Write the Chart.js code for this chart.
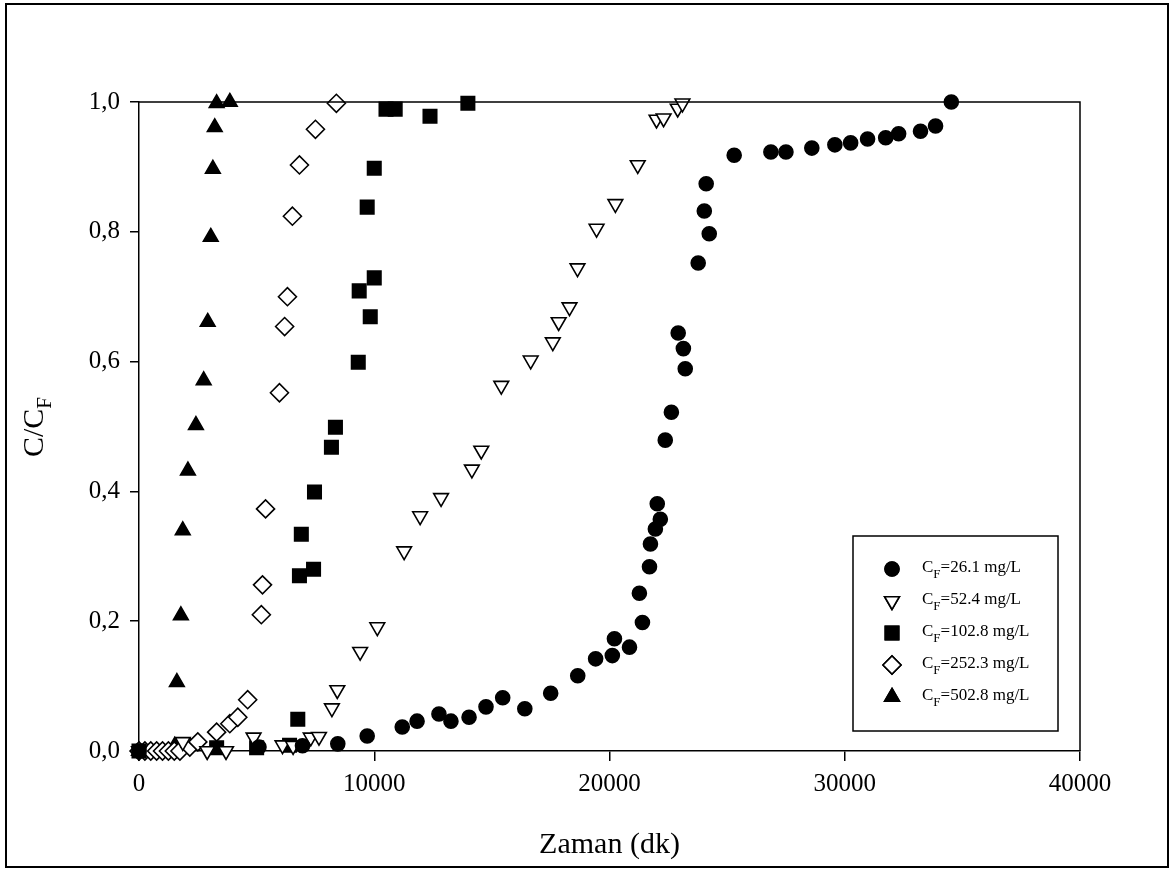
<!DOCTYPE html>
<html>
<head>
<meta charset="utf-8">
<script src="https://cdn.jsdelivr.net/npm/chart.js@4.4.0/dist/chart.umd.min.js"></script>
<style>
  html, body { margin: 0; padding: 0; background: #fff; }
</style>
</head>
<body>
<canvas id="breakthrough" width="1169" height="871"></canvas>
<script>
// axis ticks
const xTicks = [0, 10000, 20000, 30000, 40000];
const yTicks = [0, 0.2, 0.4, 0.6, 0.8, 1.0];

// legend labels (C_F values)
const feedConc = ['26.1', '52.4', '102.8', '252.3', '502.8'];

// CF = 26.1 mg/L (filled circles)
const time261 = [0, 5100, 6950, 8450, 9700, 11190, 11820, 12750, 13260, 14030, 14750, 15460, 16400, 17500, 18650, 19410, 20120, 20210, 20850, 21400, 21270, 21700, 21740, 21950, 22160, 22030, 22370, 22630, 23220, 23140, 22920, 23770, 24240, 24030, 24110, 25300, 26860, 27500, 28600, 29580, 30250, 30970, 31740, 32290, 33220, 33860, 34530];
const ratio261 = [0, 0.006, 0.008, 0.011, 0.023, 0.037, 0.046, 0.057, 0.046, 0.052, 0.068, 0.082, 0.065, 0.089, 0.116, 0.142, 0.147, 0.173, 0.160, 0.198, 0.243, 0.284, 0.319, 0.342, 0.357, 0.381, 0.479, 0.522, 0.589, 0.620, 0.644, 0.752, 0.797, 0.832, 0.874, 0.918, 0.923, 0.923, 0.929, 0.934, 0.937, 0.943, 0.945, 0.951, 0.955, 0.963, 1.0];

// CF = 52.4 mg/L (open down triangles)
const time524 = [0, 1860, 2900, 3700, 4870, 6100, 6550, 7300, 7650, 8200, 8430, 9400, 10130, 11270, 11950, 12840, 14150, 14550, 15400, 16650, 17590, 17840, 18300, 18640, 19450, 20250, 21200, 22000, 22300, 22900, 23100];
const ratio524 = [0, 0.014, 0.0, 0.0, 0.021, 0.009, 0.008, 0.021, 0.022, 0.066, 0.094, 0.153, 0.191, 0.308, 0.362, 0.390, 0.434, 0.463, 0.563, 0.602, 0.630, 0.661, 0.684, 0.744, 0.805, 0.843, 0.903, 0.973, 0.975, 0.990, 0.998];

// CF = 102.8 mg/L (filled squares)
const time1028 = [0, 3300, 5000, 6400, 6750, 6820, 6900, 7420, 7460, 8180, 8350, 9320, 9830, 9360, 10000, 9700, 10000, 10500, 10890, 12370, 13980];
const ratio1028 = [0, 0.005, 0.005, 0.009, 0.049, 0.270, 0.334, 0.280, 0.399, 0.468, 0.499, 0.599, 0.669, 0.709, 0.729, 0.838, 0.898, 0.989, 0.989, 0.978, 0.998];

// CF = 252.3 mg/L (open diamonds)
const time2523 = [0, 250, 500, 750, 1000, 1250, 1500, 1740, 2160, 2500, 3300, 3860, 4200, 4620, 5200, 5250, 5380, 5970, 6190, 6310, 6520, 6820, 7500, 8390];
const ratio2523 = [0, 0, 0, 0, 0, 0, 0, 0, 0.006, 0.014, 0.029, 0.042, 0.052, 0.079, 0.210, 0.256, 0.373, 0.552, 0.654, 0.700, 0.824, 0.903, 0.958, 0.998];

// CF = 502.8 mg/L (filled triangles)
const time5028 = [0, 1520, 1610, 1780, 1860, 2080, 2420, 2750, 2920, 3050, 3140, 3220, 3300, 3860];
const ratio5028 = [0, 0.008, 0.106, 0.209, 0.340, 0.432, 0.502, 0.571, 0.661, 0.792, 0.897, 0.961, 0.998, 1.0];

function pairs(xs, ys) {
  return xs.map(function (x, i) { return { x: x, y: ys[i] }; });
}

const styles = [
  { pointStyle: 'circle',   radius: 7,   fill: '#000', rot: 0 },
  { pointStyle: 'triangle', radius: 8.5, fill: '#fff', rot: 180 },
  { pointStyle: 'rect',     radius: 9.5, fill: '#000', rot: 0 },
  { pointStyle: 'rectRot',  radius: 9,   fill: '#fff', rot: 0 },
  { pointStyle: 'triangle', radius: 8.5, fill: '#000', rot: 0 }
];
const seriesData = [
  pairs(time261, ratio261),
  pairs(time524, ratio524),
  pairs(time1028, ratio1028),
  pairs(time2523, ratio2523),
  pairs(time5028, ratio5028)
];

const datasets = seriesData.map(function (d, i) {
  const s = styles[i];
  return {
    label: 'CF=' + feedConc[i] + ' mg/L',
    data: d,
    showLine: false,
    clip: false,
    pointStyle: s.pointStyle,
    pointRadius: s.radius,
    pointRotation: s.rot,
    pointBackgroundColor: s.fill,
    pointBorderColor: '#000',
    pointBorderWidth: 1.6
  };
});

const serif = '"Liberation Serif", "Times New Roman", serif';

// frame, axis titles and legend with subscripts
const decorPlugin = {
  id: 'decor',
  afterDraw: function (chart) {
    const ctx = chart.ctx;
    const a = chart.chartArea;
    ctx.save();
    ctx.strokeStyle = '#000';
    ctx.fillStyle = '#000';

    // outer border
    ctx.lineWidth = 2;
    ctx.strokeRect(6, 4, 1162, 863);

    // top and right edge of plot box
    ctx.lineWidth = 1.5;
    ctx.beginPath();
    ctx.moveTo(a.left, a.top);
    ctx.lineTo(a.right, a.top);
    ctx.lineTo(a.right, a.bottom);
    ctx.stroke();

    // x title
    ctx.font = '30px ' + serif;
    ctx.textAlign = 'center';
    ctx.textBaseline = 'alphabetic';
    ctx.fillText('Zaman (dk)', (a.left + a.right) / 2, 853);

    // y title C/C_F rotated
    ctx.save();
    ctx.font = '30px ' + serif;
    const main = 'C/C';
    const wMain = ctx.measureText(main).width;
    ctx.font = '21px ' + serif;
    const wSub = ctx.measureText('F').width;
    const total = wMain + wSub;
    ctx.translate(43, 427 + total / 2);
    ctx.rotate(-Math.PI / 2);
    ctx.textAlign = 'left';
    ctx.font = '30px ' + serif;
    ctx.fillText(main, 0, 0);
    ctx.font = '21px ' + serif;
    ctx.fillText('F', wMain, 8);
    ctx.restore();

    // legend
    ctx.lineWidth = 1.5;
    ctx.strokeRect(853, 536, 205, 195);
    const rowY = [569, 601, 633, 665, 697];
    for (let i = 0; i < styles.length; i++) {
      const s = styles[i];
      Chart.helpers.drawPoint(ctx, {
        pointStyle: s.pointStyle,
        radius: s.radius,
        rotation: s.rot,
        borderWidth: 1.6
      }, 892, rowY[i]);
      ctx.fillStyle = s.fill;
      ctx.fill();
      ctx.strokeStyle = '#000';
      ctx.lineWidth = 1.6;
      ctx.stroke();
      ctx.fillStyle = '#000';
      ctx.textAlign = 'left';
      ctx.font = '17px ' + serif;
      const base = rowY[i] + 3;
      ctx.fillText('C', 922, base);
      const wc = ctx.measureText('C').width;
      ctx.font = '13px ' + serif;
      ctx.fillText('F', 922 + wc, base + 6);
      const wf = ctx.measureText('F').width;
      ctx.font = '17px ' + serif;
      ctx.fillText('=' + feedConc[i] + ' mg/L', 922 + wc + wf, base);
    }
    ctx.restore();
  }
};

window.addEventListener('load', function () {
  const context = document.querySelector('#breakthrough').getContext('2d');
  new Chart(context, {
    type: 'scatter',
    data: { datasets: datasets },
    options: {
      responsive: false,
      animation: false,
      devicePixelRatio: 1,
      layout: { padding: { top: 102, right: 89, left: 0, bottom: 0 } },
      plugins: {
        legend: { display: false },
        tooltip: { enabled: false }
      },
      scales: {
        x: {
          type: 'linear',
          min: 0,
          max: 40000,
          afterBuildTicks: function (scale) {
            scale.ticks = xTicks.map(function (v) { return { value: v }; });
          },
          afterFit: function (scale) { scale.height = 120; },
          ticks: {
            color: '#000',
            font: { family: serif, size: 25 },
            padding: 8,
            maxRotation: 0,
            callback: function (v) { return String(v); }
          },
          grid: { drawOnChartArea: false, tickLength: 10, color: '#000', lineWidth: 1.5 },
          border: { color: '#000', width: 1.5 }
        },
        y: {
          type: 'linear',
          min: 0,
          max: 1,
          afterBuildTicks: function (scale) {
            scale.ticks = yTicks.map(function (v) { return { value: v }; });
          },
          afterFit: function (scale) { scale.width = 139; },
          ticks: {
            color: '#000',
            font: { family: serif, size: 25 },
            padding: 10,
            callback: function (v) { return v.toFixed(1).replace('.', ','); }
          },
          grid: { drawOnChartArea: false, tickLength: 9, color: '#000', lineWidth: 1.5 },
          border: { color: '#000', width: 1.5 }
        }
      }
    },
    plugins: [decorPlugin]
  });
});
</script>
</body>
</html>
